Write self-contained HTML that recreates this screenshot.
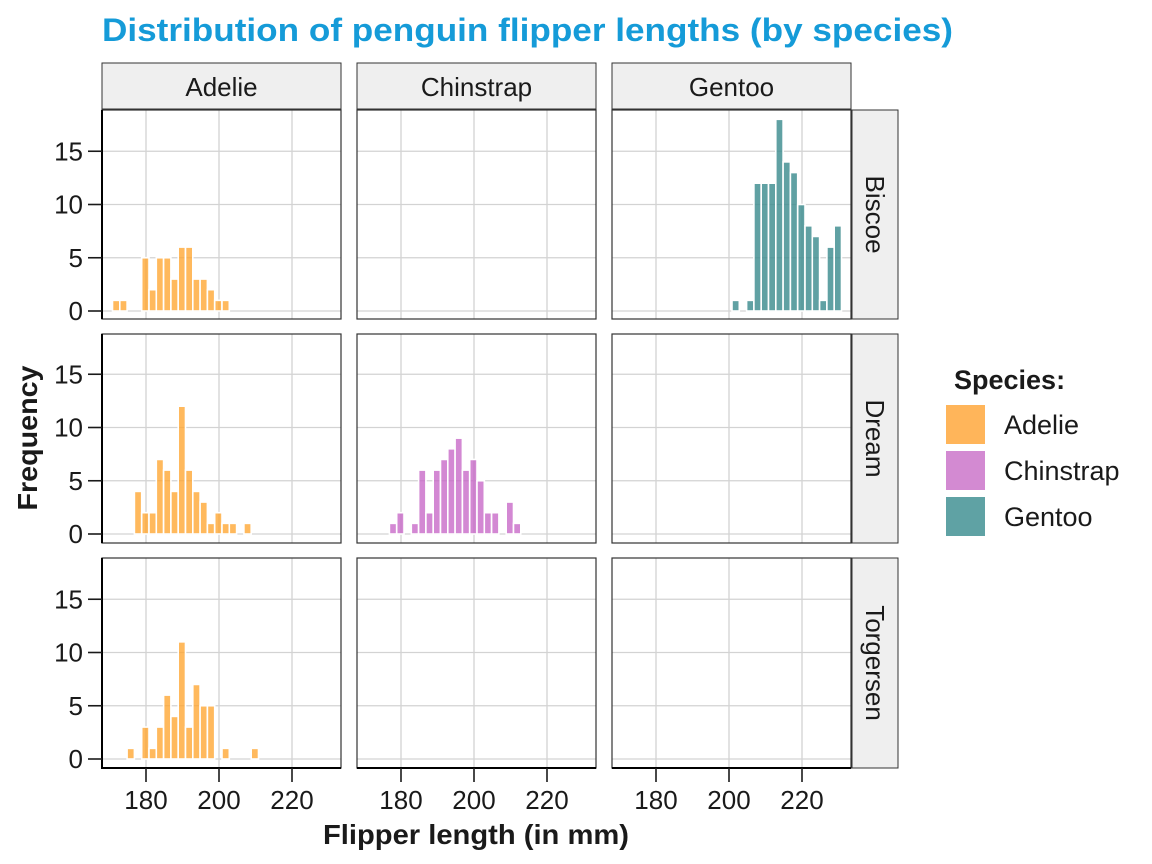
<!DOCTYPE html>
<html><head><meta charset="utf-8"><style>
html,body{margin:0;padding:0;background:#fff;}
svg{display:block;font-family:"Liberation Sans",Arial,sans-serif;}
</style></head><body>
<svg width="1152" height="864" viewBox="0 0 1152 864" xmlns="http://www.w3.org/2000/svg">
<rect width="1152" height="864" fill="#fff"/>
<text x="102" y="41" font-size="32" font-weight="bold" fill="#159bd8" textLength="851" lengthAdjust="spacingAndGlyphs">Distribution of penguin flipper lengths (by species)</text>

<g fill="#efefef" stroke="#333" stroke-width="1">
<rect x="102" y="63" width="239" height="46"/>
<rect x="357" y="63" width="239" height="46"/>
<rect x="612" y="63" width="239" height="46"/>
<rect x="852" y="110" width="46" height="209"/>
<rect x="852" y="334" width="46" height="209"/>
<rect x="852" y="558" width="46" height="210"/>
</g>
<g font-size="26" fill="#1a1a1a" text-anchor="middle">
<text x="221.5" y="96">Adelie</text>
<text x="476.5" y="96">Chinstrap</text>
<text x="731.5" y="96">Gentoo</text>
<text transform="translate(866,214.5) rotate(90)">Biscoe</text>
<text transform="translate(866,438.5) rotate(90)">Dream</text>
<text transform="translate(866,663) rotate(90)">Torgersen</text>
</g>

<g stroke="#d3d3d3" stroke-width="1.3">
<g id="vl">
<line x1="146" y1="110" x2="146" y2="319"/><line x1="219" y1="110" x2="219" y2="319"/><line x1="292" y1="110" x2="292" y2="319"/>
<line x1="146" y1="334" x2="146" y2="543"/><line x1="219" y1="334" x2="219" y2="543"/><line x1="292" y1="334" x2="292" y2="543"/>
<line x1="146" y1="558" x2="146" y2="768"/><line x1="219" y1="558" x2="219" y2="768"/><line x1="292" y1="558" x2="292" y2="768"/>
</g>
<use href="#vl" transform="translate(255,0)"/>
<use href="#vl" transform="translate(510,0)"/>
<g id="hl">
<line x1="102" y1="311" x2="341" y2="311"/><line x1="102" y1="257.75" x2="341" y2="257.75"/><line x1="102" y1="204.5" x2="341" y2="204.5"/><line x1="102" y1="151.25" x2="341" y2="151.25"/>
<line x1="102" y1="534" x2="341" y2="534"/><line x1="102" y1="480.75" x2="341" y2="480.75"/><line x1="102" y1="427.5" x2="341" y2="427.5"/><line x1="102" y1="374.25" x2="341" y2="374.25"/>
<line x1="102" y1="759" x2="341" y2="759"/><line x1="102" y1="705.75" x2="341" y2="705.75"/><line x1="102" y1="652.5" x2="341" y2="652.5"/><line x1="102" y1="599.25" x2="341" y2="599.25"/>
</g>
<use href="#hl" transform="translate(255,0)"/>
<use href="#hl" transform="translate(510,0)"/>
</g>

<g transform="translate(102,311) scale(1,-1)" fill="#ffa530" fill-opacity="0.78" stroke="#fff" stroke-width="1.6">
<rect x="10.5" y="0" width="7.3" height="10.65"/>
<rect x="17.8" y="0" width="7.3" height="10.65"/>
<rect x="39.7" y="0" width="7.3" height="53.25"/>
<rect x="47" y="0" width="7.3" height="21.3"/>
<rect x="54.3" y="0" width="7.3" height="53.25"/>
<rect x="61.6" y="0" width="7.3" height="53.25"/>
<rect x="68.9" y="0" width="7.3" height="31.95"/>
<rect x="76.2" y="0" width="7.3" height="63.9"/>
<rect x="83.5" y="0" width="7.3" height="63.9"/>
<rect x="90.8" y="0" width="7.3" height="31.95"/>
<rect x="98.1" y="0" width="7.3" height="31.95"/>
<rect x="105.4" y="0" width="7.3" height="21.3"/>
<rect x="112.7" y="0" width="7.3" height="10.65"/>
<rect x="120" y="0" width="7.3" height="10.65"/>
</g>
<g transform="translate(612,311) scale(1,-1)" fill="#3d8c8f" fill-opacity="0.82" stroke="#fff" stroke-width="1.6">
<rect x="120" y="0" width="7.3" height="10.65"/>
<rect x="134.6" y="0" width="7.3" height="10.65"/>
<rect x="141.9" y="0" width="7.3" height="127.8"/>
<rect x="149.2" y="0" width="7.3" height="127.8"/>
<rect x="156.5" y="0" width="7.3" height="127.8"/>
<rect x="163.8" y="0" width="7.3" height="191.7"/>
<rect x="171.1" y="0" width="7.3" height="149.1"/>
<rect x="178.4" y="0" width="7.3" height="138.45"/>
<rect x="185.7" y="0" width="7.3" height="106.5"/>
<rect x="193" y="0" width="7.3" height="85.2"/>
<rect x="200.3" y="0" width="7.3" height="74.55"/>
<rect x="207.6" y="0" width="7.3" height="10.65"/>
<rect x="214.9" y="0" width="7.3" height="63.9"/>
<rect x="222.2" y="0" width="7.3" height="85.2"/>
</g>
<g transform="translate(102,534) scale(1,-1)" fill="#ffa530" fill-opacity="0.78" stroke="#fff" stroke-width="1.6">
<rect x="32.4" y="0" width="7.3" height="42.6"/>
<rect x="39.7" y="0" width="7.3" height="21.3"/>
<rect x="47" y="0" width="7.3" height="21.3"/>
<rect x="54.3" y="0" width="7.3" height="74.55"/>
<rect x="61.6" y="0" width="7.3" height="63.9"/>
<rect x="68.9" y="0" width="7.3" height="42.6"/>
<rect x="76.2" y="0" width="7.3" height="127.8"/>
<rect x="83.5" y="0" width="7.3" height="63.9"/>
<rect x="90.8" y="0" width="7.3" height="42.6"/>
<rect x="98.1" y="0" width="7.3" height="31.95"/>
<rect x="105.4" y="0" width="7.3" height="10.65"/>
<rect x="112.7" y="0" width="7.3" height="21.3"/>
<rect x="120" y="0" width="7.3" height="10.65"/>
<rect x="127.3" y="0" width="7.3" height="10.65"/>
<rect x="141.9" y="0" width="7.3" height="10.65"/>
</g>
<g transform="translate(357,534) scale(1,-1)" fill="#c767c6" fill-opacity="0.78" stroke="#fff" stroke-width="1.6">
<rect x="32.4" y="0" width="7.3" height="10.65"/>
<rect x="39.7" y="0" width="7.3" height="21.3"/>
<rect x="54.3" y="0" width="7.3" height="10.65"/>
<rect x="61.6" y="0" width="7.3" height="63.9"/>
<rect x="68.9" y="0" width="7.3" height="21.3"/>
<rect x="76.2" y="0" width="7.3" height="63.9"/>
<rect x="83.5" y="0" width="7.3" height="74.55"/>
<rect x="90.8" y="0" width="7.3" height="85.2"/>
<rect x="98.1" y="0" width="7.3" height="95.85"/>
<rect x="105.4" y="0" width="7.3" height="63.9"/>
<rect x="112.7" y="0" width="7.3" height="74.55"/>
<rect x="120" y="0" width="7.3" height="53.25"/>
<rect x="127.3" y="0" width="7.3" height="21.3"/>
<rect x="134.6" y="0" width="7.3" height="21.3"/>
<rect x="149.2" y="0" width="7.3" height="31.95"/>
<rect x="156.5" y="0" width="7.3" height="10.65"/>
</g>
<g transform="translate(102,759) scale(1,-1)" fill="#ffa530" fill-opacity="0.78" stroke="#fff" stroke-width="1.6">
<rect x="25.1" y="0" width="7.3" height="10.65"/>
<rect x="39.7" y="0" width="7.3" height="31.95"/>
<rect x="47" y="0" width="7.3" height="10.65"/>
<rect x="54.3" y="0" width="7.3" height="31.95"/>
<rect x="61.6" y="0" width="7.3" height="63.9"/>
<rect x="68.9" y="0" width="7.3" height="42.6"/>
<rect x="76.2" y="0" width="7.3" height="117.15"/>
<rect x="83.5" y="0" width="7.3" height="31.95"/>
<rect x="90.8" y="0" width="7.3" height="74.55"/>
<rect x="98.1" y="0" width="7.3" height="53.25"/>
<rect x="105.4" y="0" width="7.3" height="53.25"/>
<rect x="120" y="0" width="7.3" height="10.65"/>
<rect x="149.2" y="0" width="7.3" height="10.65"/>
</g>

<g fill="none" stroke="#333" stroke-width="1.2">
<rect x="102" y="110" width="239" height="209"/>
<rect x="357" y="110" width="239" height="209"/>
<rect x="612" y="110" width="239" height="209"/>
<rect x="102" y="334" width="239" height="209"/>
<rect x="357" y="334" width="239" height="209"/>
<rect x="612" y="334" width="239" height="209"/>
<rect x="102" y="558" width="239" height="210"/>
<rect x="357" y="558" width="239" height="210"/>
<rect x="612" y="558" width="239" height="210"/>
</g>
<g stroke="#000" stroke-width="2">
<line x1="102" y1="110" x2="102" y2="319"/>
<line x1="102" y1="334" x2="102" y2="543"/>
<line x1="102" y1="558" x2="102" y2="768"/>
<line x1="101" y1="768" x2="341" y2="768"/>
<line x1="357" y1="768" x2="596" y2="768"/>
<line x1="612" y1="768" x2="851" y2="768"/>
</g>
<g stroke="#1a1a1a" stroke-width="1.6">
<line x1="88" y1="311" x2="102" y2="311"/><line x1="88" y1="257.75" x2="102" y2="257.75"/><line x1="88" y1="204.5" x2="102" y2="204.5"/><line x1="88" y1="151.25" x2="102" y2="151.25"/>
<line x1="88" y1="534" x2="102" y2="534"/><line x1="88" y1="480.75" x2="102" y2="480.75"/><line x1="88" y1="427.5" x2="102" y2="427.5"/><line x1="88" y1="374.25" x2="102" y2="374.25"/>
<line x1="88" y1="759" x2="102" y2="759"/><line x1="88" y1="705.75" x2="102" y2="705.75"/><line x1="88" y1="652.5" x2="102" y2="652.5"/><line x1="88" y1="599.25" x2="102" y2="599.25"/>
<line x1="146" y1="768" x2="146" y2="782"/><line x1="219" y1="768" x2="219" y2="782"/><line x1="292" y1="768" x2="292" y2="782"/>
<line x1="401" y1="768" x2="401" y2="782"/><line x1="474" y1="768" x2="474" y2="782"/><line x1="547" y1="768" x2="547" y2="782"/>
<line x1="656" y1="768" x2="656" y2="782"/><line x1="729" y1="768" x2="729" y2="782"/><line x1="802" y1="768" x2="802" y2="782"/>
</g>
<g font-size="26" fill="#1a1a1a" text-anchor="end">
<text x="83" y="320">0</text><text x="83" y="266.75">5</text><text x="83" y="213.5">10</text><text x="83" y="160.25">15</text>
<text x="83" y="543">0</text><text x="83" y="489.75">5</text><text x="83" y="436.5">10</text><text x="83" y="383.25">15</text>
<text x="83" y="768">0</text><text x="83" y="714.75">5</text><text x="83" y="661.5">10</text><text x="83" y="608.25">15</text>
</g>
<g font-size="26" fill="#1a1a1a" text-anchor="middle">
<text x="146" y="809">180</text><text x="219" y="809">200</text><text x="292" y="809">220</text>
<text x="401" y="809">180</text><text x="474" y="809">200</text><text x="547" y="809">220</text>
<text x="656" y="809">180</text><text x="729" y="809">200</text><text x="802" y="809">220</text>
</g>
<text x="476" y="844" font-size="28" font-weight="bold" fill="#1a1a1a" text-anchor="middle" textLength="306" lengthAdjust="spacingAndGlyphs">Flipper length (in mm)</text>
<text transform="translate(37,438) rotate(-90)" font-size="28" font-weight="bold" fill="#1a1a1a" text-anchor="middle" textLength="145" lengthAdjust="spacingAndGlyphs">Frequency</text>

<text x="954" y="389" font-size="27" font-weight="bold" fill="#1a1a1a">Species:</text>
<rect x="946" y="405" width="39" height="39" fill="#ffb55a"/>
<rect x="946" y="451" width="39" height="39" fill="#d38ad2"/>
<rect x="946" y="497" width="39" height="39" fill="#5fa2a4"/>
<g font-size="27" fill="#1a1a1a">
<text x="1004" y="434">Adelie</text>
<text x="1004" y="480">Chinstrap</text>
<text x="1004" y="526">Gentoo</text>
</g>
</svg>
</body></html>
